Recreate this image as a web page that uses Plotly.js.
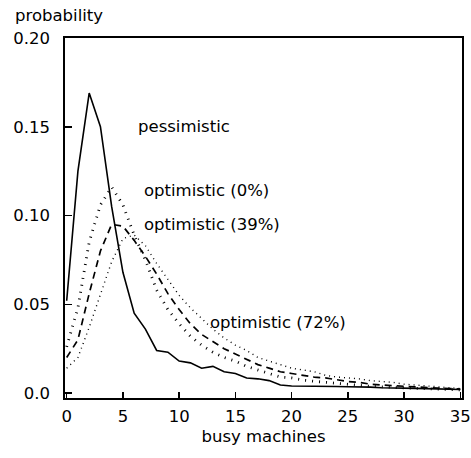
<!DOCTYPE html>
<html><head><meta charset="utf-8">
<script src="https://cdn.plot.ly/plotly-3.0.1.min.js"></script>
<style>html,body{margin:0;padding:0;background:#fff}</style>
</head><body>
<div id="chart" style="width:471px;height:458px"></div>
<script>
const machines = Array.from({length: 36}, (_, i) => i);
const pessimistic = [0.052,0.125,0.169,0.150,0.105,0.068,0.045,0.036,0.024,0.023,0.018,0.017,0.014,0.015,0.012,0.011,0.0085,0.008,0.007,0.0045,0.004,0.004,0.004,0.0038,0.0037,0.0035,0.0035,0.0033,0.003,0.003,0.0028,0.0026,0.0025,0.0023,0.0022,0.002];
const optimistic0 = [0.026,0.048,0.085,0.106,0.116,0.106,0.089,0.075,0.058,0.047,0.039,0.032,0.027,0.023,0.020,0.018,0.015,0.013,0.011,0.009,0.0085,0.0073,0.0066,0.006,0.0055,0.005,0.0042,0.0038,0.0035,0.003,0.0029,0.0027,0.0025,0.0023,0.002,0.0018];
const optimistic39 = [0.020,0.030,0.056,0.080,0.095,0.094,0.086,0.077,0.067,0.056,0.047,0.039,0.033,0.029,0.025,0.022,0.019,0.016,0.014,0.012,0.011,0.010,0.009,0.0085,0.0075,0.0065,0.006,0.005,0.0045,0.004,0.0038,0.0035,0.003,0.0028,0.0025,0.0022];
const optimistic72 = [0.014,0.020,0.037,0.056,0.074,0.087,0.089,0.083,0.073,0.064,0.055,0.048,0.042,0.036,0.031,0.027,0.024,0.020,0.018,0.016,0.014,0.013,0.012,0.010,0.009,0.0085,0.008,0.007,0.0065,0.006,0.005,0.0045,0.004,0.0035,0.003,0.0025];
const yTicks = [0, 0.05, 0.10, 0.15, 0.20];
const yTickText = ['0.0', '0.05', '0.10', '0.15', '0.20'];
const xTicks = [0, 5, 10, 15, 20, 25, 30, 35];
const labels = ['pessimistic', 'optimistic (0%)', 'optimistic (39%)', 'optimistic (72%)'];
const labelX = [6.2, 6.7, 6.7, 12.6];
const labelY = [0.150, 0.114, 0.095, 0.040];

const F = '"DejaVu Sans", sans-serif';
const FS = 16.5;
const traces = [
  {x: machines, y: pessimistic, mode: 'lines', line: {color: '#000', width: 1.6, dash: 'solid'}},
  {x: machines, y: optimistic0, mode: 'lines', line: {color: '#000', width: 2.8, dash: '1px,6px'}},
  {x: machines, y: optimistic39, mode: 'lines', line: {color: '#000', width: 1.7, dash: '7px,5px'}},
  {x: machines, y: optimistic72, mode: 'lines', line: {color: '#000', width: 1.4, dash: '1px,4px'}}
];
const annotations = labels.map((t, i) => ({
  x: labelX[i], y: labelY[i], xref: 'x', yref: 'y', text: t, showarrow: false,
  xanchor: 'left', yanchor: 'middle', font: {family: F, size: FS, color: '#000'}
}));
annotations.push({x: 0, y: 1, xref: 'paper', yref: 'paper', xshift: -52, yshift: 23,
  text: 'probability', showarrow: false, xanchor: 'left', yanchor: 'middle',
  font: {family: F, size: FS, color: '#000'}});

const layout = {
  width: 471, height: 458,
  margin: {l: 65, r: 9, t: 38, b: 60},
  paper_bgcolor: '#fff', plot_bgcolor: '#fff',
  showlegend: false,
  font: {family: F, size: FS, color: '#000'},
  xaxis: {range: [-0.15, 35.15], tickvals: xTicks, ticks: 'inside', ticklen: 6, tickwidth: 1.5,
    tickcolor: '#000', showline: true, linecolor: '#000', linewidth: 1.8, mirror: true,
    showgrid: false, zeroline: false, ticklabelstandoff: 2,
    title: {text: 'busy machines', font: {family: F, size: FS}, standoff: 6},
    tickfont: {family: F, size: FS}},
  yaxis: {range: [-0.0028, 0.2], tickvals: yTicks, ticktext: yTickText, ticks: 'inside', ticklen: 7, tickwidth: 1.5,
    tickcolor: '#000', showline: true, linecolor: '#000', linewidth: 1.8, mirror: true,
    showgrid: false, zeroline: false, ticklabelstandoff: 10, tickfont: {family: F, size: FS}},
  annotations: annotations
};
Plotly.newPlot('chart', traces, layout, {displayModeBar: false, staticPlot: true});
</script>
</body></html>
